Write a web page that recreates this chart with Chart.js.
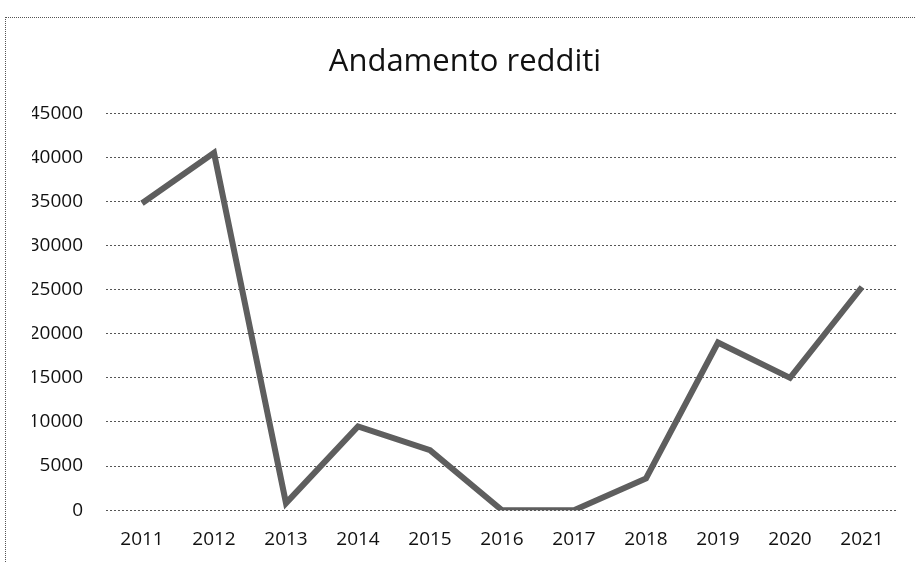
<!DOCTYPE html>
<html>
<head>
<meta charset="utf-8">
<script src="https://cdn.jsdelivr.net/npm/chart.js@4.4.0/dist/chart.umd.min.js"></script>
<style>
    html, body { margin: 0; padding: 0; background: #fff; }
    #wrap { position: relative; width: 915px; height: 562px; }
    #frame {
        position: absolute; left: 5px; top: 17px; right: 0; bottom: 0;
        border-top: 1px dotted #555; border-left: 1px dotted #555;
    }
    canvas { position: absolute; left: 0; top: 0; }
</style>
</head>
<body>
<div id="wrap">
    <div id="frame"></div>
    <canvas id="myChart" width="915" height="562"></canvas>
</div>
<script>
// dati
const anni = ['2011', '2012', '2013', '2014', '2015', '2016', '2017', '2018', '2019', '2020', '2021'];
const redditi = [34800, 40500, 800, 9500, 6800, 0, 0, 3600, 19000, 15000, 25300];
const titolo = 'Andamento redditi';

const ctx = document.getElementById('myChart').getContext('2d');
let myChart = new Chart(ctx, {
    type: 'line',
    data: {
        labels: anni,
        datasets: [{
            label: titolo,
            data: redditi,
            borderColor: '#5e5e5e',
            borderWidth: 6,
            pointRadius: 0,
            tension: 0,
            fill: false
        }]
    },
    options: {
        responsive: false,
        animation: false,
        layout: {
            padding: { left: 32, right: 17, top: 0, bottom: 1 }
        },
        plugins: {
            legend: { display: false },
            tooltip: { enabled: false },
            title: {
                display: true,
                text: titolo,
                color: '#111',
                font: { family: 'Open Sans', size: 31, weight: 'normal' },
                padding: { top: 44, bottom: 32 }
            }
        },
        scales: {
            x: {
                offset: true,
                grid: { display: false },
                border: { display: false },
                ticks: {
                    color: '#111',
                    font: { family: 'Open Sans', size: 19 },
                    padding: 10
                }
            },
            y: {
                min: 0,
                max: 45000,
                // larghezza fissa dell'asse, così il titolo resta centrato come nell'originale
                afterFit: function (scale) {
                    scale.width = 74;
                },
                ticks: {
                    stepSize: 5000,
                    color: '#111',
                    font: { family: 'Open Sans', size: 19 },
                    padding: 23,
                    callback: v => String(v)
                },
                grid: {
                    color: '#555',
                    lineWidth: 1,
                    drawTicks: false
                },
                border: { display: false, dash: [2, 2] }
            }
        }
    }
});
</script>
</body>
</html>
